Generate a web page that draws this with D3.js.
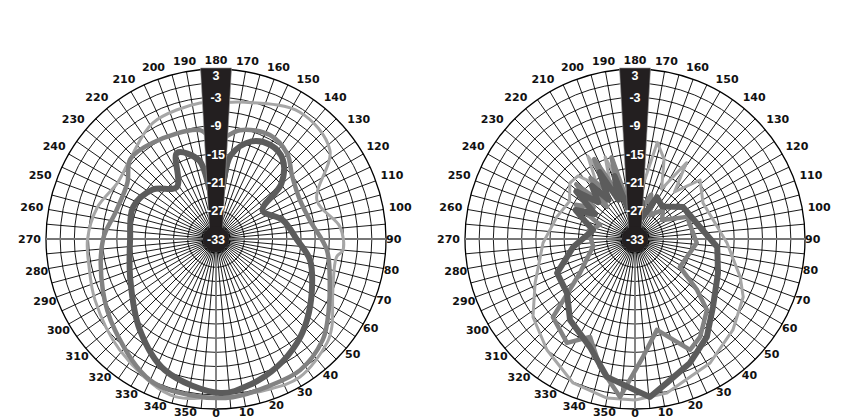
<!DOCTYPE html>
<html>
<head>
<meta charset="utf-8">
<script src="https://cdnjs.cloudflare.com/ajax/libs/d3/7.8.5/d3.min.js"></script>
<style>
  body { margin: 0; background: #fff; }
</style>
</head>
<body>
<script>
// angle (deg, 0 at bottom, counter-clockwise on screen) / level (dB)
const angleTicks = d3.range(0, 360, 10);
const dbTicks = [3, -3, -9, -15, -21, -27, -33];
const dbRings = d3.range(-30, 3.1, 3);

const leftLight = [[0,0.5],[18.7,0.7],[31.3,1.2],[46.9,-0.8],[52.8,-2.2],[66.4,-6],[81.5,-7.2],[85,-6],[95.5,-6.6],[111,-10.1],
  [128,-2.4],[146.5,-0.8],[168,-3.4],[180,-4.2],[186.7,-4],[208.5,-5],[227.4,-8.2],[240,-9],[255,-7],[270,-5.8],[282,-5.5],
  [296.8,-4.3],[319,-1.9],[343.6,1.4]];
const leftMid = [[6,0.7],[19,0.1],[32.7,0],[46.6,-1.9],[54,-3.8],[69,-7.2],[84.3,-9.4],[101,-12.7],[115,-13.4],[130,-12],
  [140,-9.5],[152.6,-8.2],[167.6,-9.4],[178,-12],[182,-12],[188.4,-9.7],[213.3,-8.6],[227,-8.2],[237.8,-10.8],[255,-11],
  [270,-9.1],[294.3,-6.7],[312,-4.2],[334.9,0],[350.5,0.5]];
const leftDark = [[1.5,-0.4],[13.1,-1.3],[25.5,-3],[37.9,-5.1],[48.3,-7.2],[62,-10],[77.4,-12.6],[89.3,-15.8],[105.8,-18.3],
  [121.7,-21.4],[130,-15],[140,-11],[150,-10],[160,-11],[170,-15],[176,-24],[184,-24],[192,-16],[204.4,-13],[216.9,-19.2],
  [232,-16],[249,-14.2],[270.7,-14.8],[295.5,-12.9],[320,-7.9],[338.7,-3.2]];

const rightLight = [[0,1.1],[11.7,0.3],[31.2,-2.3],[47.1,-4.7],[61.8,-7],[70.1,-9.3],[87.5,-13.5],[117.9,-16.7],[132.2,-14.4],
  [140,-20],[146,-13.5],[152,-21],[160,-15],[167,-12],[172,-22],[178,-27],[186,-19],[192,-24],[200,-14.5],[205,-21],
  [209.7,-12.8],[215,-19],[222,-15],[229.3,-14.8],[240,-17],[254.2,-15.8],[272.5,-13.5],
  [293.7,-9.9],[307.4,-5.8],[321.6,-3],[336.7,0.2],[350,1.2]];
const rightMid = [[3.9,-8],[13.6,-13.2],[26.4,-6.8],[33.6,-8.1],[45.4,-11.6],[50.6,-16],[58.1,-21.8],[86.3,-19.9],[113,-21],
  [125,-26],[136,-24.5],[148,-27],[160,-23],[170,-27],[185,-22],[190,-26],[196,-15],[200,-23],[207,-14],[211,-21],
  [216,-17],[221,-24],[227,-16],[233,-22],[240,-18.5],[248,-25],[260,-23],[280,-24],[301.7,-19.3],[313.6,-9],
  [326.8,-6.7],[335.3,-10.2],[344.7,-4.9],[354.6,0.6]];
const rightDark = [[0,-1],[5.4,0.6],[12.5,-1.8],[23.9,-4.3],[36.3,-7.3],[48.9,-11.1],[67.7,-14],[84.4,-15.5],[100.5,-19],
  [123.7,-20.8],[140,-24],[152.4,-23],[160,-28],[170,-25],[180,-29],[187,-23],[192,-27],[198,-19],[203,-24],[208,-17],
  [214,-23],[219,-18.5],[225,-22],[231,-17],[238,-23],[244,-19],[251,-22],
  [257.9,-23.9],[277.4,-19.8],[293.6,-15],[308.5,-14.6],[321.3,-11],[337.4,-8.2],[348.5,-3.2]];

const w = 852, h = 420, R = 170;
const charts = [
  { cx: 216, cy: 239, series: [leftLight, leftMid, leftDark], curve: d3.curveCatmullRomClosed },
  { cx: 635, cy: 239, series: [rightLight, rightMid, rightDark], curve: d3.curveLinearClosed }
];
const colors = ["#a6a6a6", "#828282", "#5c5c5c"];
const widths = [3, 4.5, 6];

const svg = d3.select("body").append("svg")
  .attr("width", w)
  .attr("height", h);

const r = d3.scaleLinear().domain([-33, 3]).range([0, R]);
const rad = a => (180 - a) * Math.PI / 180;

charts.forEach(function (c) {
  const g = svg.append("g").attr("transform", "translate(" + c.cx + "," + c.cy + ")");

  // rings
  g.selectAll("circle.ring")
    .data(dbRings)
    .enter().append("circle")
    .attr("class", "ring")
    .attr("r", d => r(d))
    .attr("fill", "none")
    .attr("stroke", "#000")
    .attr("stroke-width", d => d === 3 ? 1.3 : 0.9);

  // spokes
  g.selectAll("line.spoke")
    .data(d3.range(0, 360, 5))
    .enter().append("line")
    .attr("class", "spoke")
    .attr("x1", d => 12 * Math.sin(d * Math.PI / 180))
    .attr("y1", d => 12 * Math.cos(d * Math.PI / 180))
    .attr("x2", d => R * Math.sin(d * Math.PI / 180))
    .attr("y2", d => R * Math.cos(d * Math.PI / 180))
    .attr("stroke", d => d % 90 === 0 ? "#777" : "#000")
    .attr("stroke-width", d => d % 90 === 0 ? 1.8 : 0.9);

  // traces
  const line = d3.lineRadial()
    .angle(d => rad(d[0]))
    .radius(d => r(d[1]))
    .curve(c.curve);

  c.series.forEach(function (s, i) {
    g.append("path")
      .attr("d", line(s))
      .attr("fill", "none")
      .attr("stroke", colors[i])
      .attr("stroke-width", widths[i])
      .attr("stroke-linejoin", "round");
  });

  // black band with level labels
  g.append("path")
    .attr("d", "M" + (-15.5) + "," + (-R - 1) + "L15.5," + (-R - 1) + "L6,0L-6,0Z")
    .attr("fill", "#231f20")
    .attr("stroke", "#999")
    .attr("stroke-width", 0.6);
  g.append("circle")
    .attr("r", 13)
    .attr("fill", "#231f20");

  g.selectAll("text.db")
    .data(dbTicks)
    .enter().append("text")
    .attr("class", "db")
    .attr("x", 0)
    .attr("y", d => d === 3 ? -r(d) + 6 : -r(d))
    .attr("dy", "0.36em")
    .attr("text-anchor", "middle")
    .attr("fill", "#fff")
    .attr("font-family", "Liberation Sans Narrow, sans-serif")
    .attr("font-weight", "bold")
    .attr("font-size", 12.5)
    .text(d => d);

  // angle labels
  g.selectAll("text.ang")
    .data(angleTicks)
    .enter().append("text")
    .attr("class", "ang")
    .attr("text-anchor", "middle")
    .attr("dy", "0.36em")
    .attr("font-family", "DejaVu Sans, sans-serif")
    .attr("font-weight", "bold")
    .attr("font-size", 11)
    .attr("fill", "#111")
    .text(d => d)
    .each(function (d) {
      const tw = this.getComputedTextLength();
      const a = d * Math.PI / 180;
      const s = Math.sin(a), co = Math.cos(a);
      const off = (co > 0 ? 170 : 175) + Math.abs(s) * tw / 2 + Math.abs(co) * 4;
      d3.select(this)
        .attr("x", off * s)
        .attr("y", off * co);
    });
});
</script>
</body>
</html>
